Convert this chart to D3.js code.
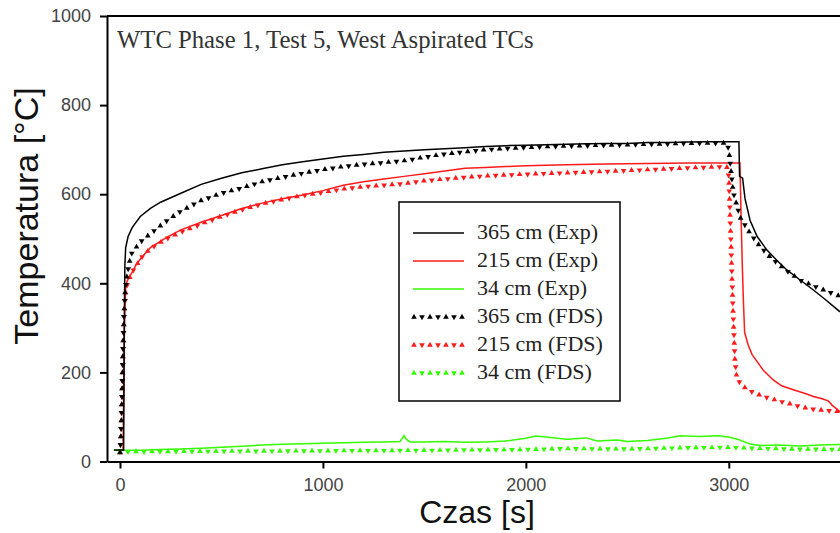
<!DOCTYPE html>
<html>
<head>
<meta charset="utf-8">
<script src="https://cdn.jsdelivr.net/npm/d3@7"></script>
<style>
  body { margin: 0; background: #fff; }
  svg { display: block; }
</style>
</head>
<body>
<svg id="chart" width="840" height="533"></svg>
<script>
// time [s] / temperature [°C]
const exp365T = [-30, 18, 21, 24, 28, 40, 60, 100, 150, 200, 300, 400, 500, 600, 700, 800, 900, 1000, 1100, 1200, 1300, 1400, 1500, 1600, 1700, 1800, 1900, 2000, 2100, 2200, 2300, 2400, 2500, 2600, 2700, 2800, 2900, 3000, 3050, 3053, 3068, 3080, 3105, 3140, 3187, 3240, 3286, 3350, 3417, 3480, 3548]
const exp365V = [26, 26, 300, 440, 480, 505, 525, 550, 568, 582, 602, 622, 636, 648, 657, 666, 673, 679, 685, 689, 694, 697, 700, 702, 704, 707, 709, 710, 711, 712, 713, 714, 714, 716, 716, 717, 718, 718, 718, 640, 636, 590, 541, 505, 475, 450, 430, 408, 385, 362, 336]

const exp215T = [15, 18, 22, 28, 35, 60, 80, 110, 150, 230, 300, 400, 500, 600, 700, 800, 900, 1000, 1100, 1200, 1300, 1400, 1500, 1600, 1700, 1800, 1900, 2000, 2200, 2400, 2600, 2800, 3000, 3055, 3060, 3066, 3072, 3078, 3095, 3115, 3137, 3170, 3219, 3260, 3318, 3380, 3417, 3460, 3490, 3510, 3548]
const exp215V = [25, 150, 300, 390, 405, 425, 442, 460, 480, 503, 520, 537, 552, 568, 580, 590, 598, 608, 620, 628, 634, 640, 646, 652, 658, 660, 662, 664, 666, 668, 669, 670, 670, 670, 560, 450, 360, 290, 262, 240, 226, 205, 183, 170, 161, 152, 146, 141, 136, 126, 112]

const exp34T = [-30, 100, 200, 300, 400, 500, 600, 700, 800, 900, 1000, 1100, 1200, 1300, 1380, 1400, 1410, 1430, 1500, 1600, 1700, 1800, 1900, 2000, 2050, 2100, 2200, 2300, 2350, 2450, 2500, 2600, 2700, 2760, 2850, 2950, 3000, 3050, 3100, 3150, 3250, 3350, 3450, 3548]
const exp34V = [25, 25, 27, 28, 30, 32, 34, 37, 39, 40, 41, 42, 43, 44, 45, 58, 50, 44, 44, 45, 43, 44, 46, 52, 57, 55, 50, 53, 46, 48, 45, 47, 53, 58, 56, 58, 55, 49, 40, 36, 37, 35, 37, 38]

const fds365T = [0, 5, 10, 15, 20, 25, 35, 50, 60, 110, 160, 230, 300, 400, 500, 600, 700, 800, 900, 1000, 1100, 1200, 1300, 1400, 1500, 1600, 1700, 1800, 2000, 2200, 2400, 2600, 2800, 2990, 3000, 3022, 3056, 3105, 3150, 3203, 3280, 3351, 3450, 3548]
const fds365V = [20, 60, 150, 250, 330, 380, 420, 455, 470, 497, 515, 540, 562, 586, 602, 614, 628, 638, 647, 655, 662, 667, 671, 675, 683, 690, 695, 700, 705, 708, 710, 712, 714, 715, 700, 604, 548, 512, 485, 459, 430, 407, 388, 371]

const fds215T = [0, 5, 10, 15, 20, 28, 40, 60, 80, 110, 150, 230, 300, 400, 500, 600, 700, 800, 900, 1000, 1100, 1200, 1300, 1400, 1500, 1600, 1700, 1800, 2000, 2200, 2400, 2600, 2800, 2990, 3000, 3010, 3020, 3030, 3040, 3071, 3120, 3170, 3230, 3287, 3360, 3435, 3548]
const fds215V = [20, 60, 150, 250, 330, 380, 405, 425, 440, 460, 478, 500, 515, 533, 550, 565, 578, 588, 597, 604, 612, 617, 620, 624, 630, 634, 638, 641, 645, 648, 651, 655, 659, 662, 640, 500, 350, 230, 185, 168, 155, 146, 138, 131, 122, 116, 112]

const fds34T = [0, 500, 1000, 1500, 2000, 2200, 2500, 2800, 3000, 3100, 3300, 3548]
const fds34V = [22, 23, 24, 25, 27, 29, 28, 31, 32, 30, 28, 27]

const legendLabels = ['365 cm (Exp)', '215 cm (Exp)', '34 cm (Exp)', '365 cm (FDS)', '215 cm (FDS)', '34 cm (FDS)']
const xTicks = [0, 1000, 2000, 3000]
const yTicks = [0, 200, 400, 600, 800, 1000]

const BLACK = '#000000', RED = '#ff1a1a', GREEN = '#33ff00'

const svg = d3.select('#chart')

const xScale = d3.scaleLinear().domain([-64, 3548]).range([107, 840])
const yScale = d3.scaleLinear().domain([0, 1000]).range([461.5, 16])

// axes
const xAxis = d3.axisBottom(xScale).tickValues(xTicks).tickFormat(d3.format('d')).tickSize(7).tickPadding(10).tickSizeOuter(0)
const yAxis = d3.axisLeft(yScale).tickValues(yTicks).tickFormat(d3.format('d')).tickSize(7).tickPadding(9).tickSizeOuter(0)

const gx = svg.append('g').attr('transform', `translate(0, ${yScale(0)})`).call(xAxis)
const gy = svg.append('g').attr('transform', `translate(${xScale(-64)}, 0)`).call(yAxis)
;[gx, gy].forEach(g => {
    g.select('.domain').attr('stroke', '#000').attr('stroke-width', 2)
    g.selectAll('.tick line').attr('stroke', '#000').attr('stroke-width', 2)
    g.selectAll('.tick text').attr('fill', '#444').style('font-family', 'Liberation Sans, Arial, sans-serif').style('font-size', '18px')
})
// top frame line
svg.append('line').attr('x1', xScale(-64)).attr('x2', 840).attr('y1', yScale(1000)).attr('y2', yScale(1000))
    .attr('stroke', '#000').attr('stroke-width', 2)

// axis titles
svg.append('text').attr('x', 477).attr('y', 523).attr('text-anchor', 'middle')
    .style('font-family', 'Liberation Sans, Arial, sans-serif').style('font-size', '32px').attr('fill', '#111')
    .text('Czas [s]')
svg.append('text').attr('transform', 'translate(38, 216) rotate(-90)').attr('text-anchor', 'middle')
    .style('font-family', 'Liberation Sans, Arial, sans-serif').style('font-size', '34px').attr('fill', '#111')
    .text('Temperatura [°C]')

// title inside plot
svg.append('text').attr('x', 117).attr('y', 48)
    .style('font-family', 'Liberation Serif, Times New Roman, serif').style('font-size', '24.7px').attr('fill', '#333')
    .text('WTC Phase 1, Test 5, West Aspirated TCs')

const plot = svg.append('g')
const lineLin = d3.line().x(d => xScale(d[0])).y(d => yScale(d[1]))

function zipT(ts, vs) { return ts.map((t, i) => [t, vs[i]]) }

function drawExp(ts, vs, color) {
    plot.append('path').datum(zipT(ts, vs)).attr('d', lineLin)
        .attr('fill', 'none').attr('stroke', color).attr('stroke-width', 1.5)
}

const tri = d3.symbol().type(d3.symbolTriangle).size(14)

// FDS: triangles placed along the curve every few pixels
function drawFDS(ts, vs, color, step) {
    const p = plot.append('path').datum(zipT(ts, vs)).attr('d', lineLin)
        .attr('fill', 'none').attr('stroke', 'none')
    const node = p.node()
    const len = node.getTotalLength()
    const pts = []
    for (let l = 0; l <= len; l += step) pts.push(node.getPointAtLength(l))
    plot.selectAll(null).data(pts).enter().append('path')
        .attr('d', tri)
        .attr('transform', (d, i) => `translate(${d.x}, ${d.y}) rotate(${i % 2 ? 180 : 0})`)
        .attr('fill', color)
}

drawExp(exp34T, exp34V, GREEN)
drawFDS(fds34T, fds34V, GREEN, 8)
drawExp(exp215T, exp215V, RED)
drawFDS(fds215T, fds215V, RED, 8)
drawExp(exp365T, exp365V, BLACK)
drawFDS(fds365T, fds365V, BLACK, 8)

// legend
const lg = svg.append('g')
lg.append('rect').attr('x', 399).attr('y', 202).attr('width', 221).attr('height', 199)
    .attr('fill', '#fff').attr('stroke', '#000').attr('stroke-width', 1.5)
const legendColors = [BLACK, RED, GREEN, BLACK, RED, GREEN]
legendLabels.forEach((lab, i) => {
    const y = 233 + i * 28
    if (i < 3) {
        lg.append('line').attr('x1', 413).attr('x2', 464).attr('y1', y).attr('y2', y)
            .attr('stroke', legendColors[i]).attr('stroke-width', 1.5)
    } else {
        d3.range(7).forEach(k => {
            lg.append('path').attr('d', tri)
                .attr('transform', `translate(${414 + k * 8}, ${y}) rotate(${k % 2 ? 180 : 0})`)
                .attr('fill', legendColors[i])
        })
    }
    lg.append('text').attr('x', 477).attr('y', y + 6)
        .style('font-family', 'Liberation Serif, Times New Roman, serif').style('font-size', '22px').attr('fill', '#222')
        .text(lab)
})
</script>
</body>
</html>
